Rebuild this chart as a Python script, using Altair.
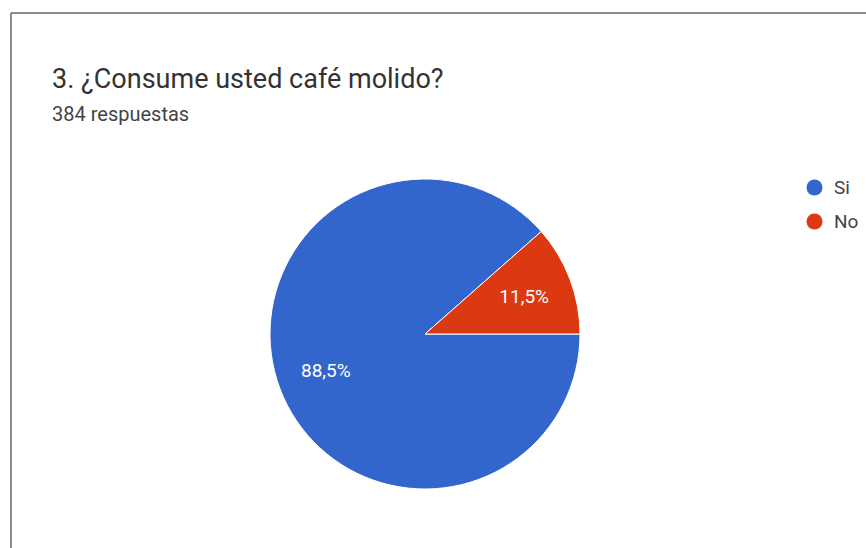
import math
import altair as alt
import pandas as pd

# Datos
categorias = ["Si", "No"]
porcentajes = [88.5, 11.5]
etiquetas = ["88,5%", "11,5%"]
orden = [0, 1]
colores = ["#3366cc", "#dc3912"]
titulo = "3. ¿Consume usted café molido?"
subtitulo = "384 respuestas"

df = pd.DataFrame({
    "respuesta": categorias,
    "porcentaje": porcentajes,
    "etiqueta": etiquetas,
    "orden": orden,
})

theta = alt.Theta(
    "porcentaje:Q",
    stack=True,
    scale=alt.Scale(range=[math.pi / 2, math.pi / 2 + 2 * math.pi]),
)

pie = alt.Chart(df).mark_arc(outerRadius=155, stroke="white", strokeWidth=1).encode(
    theta=theta,
    color=alt.Color(
        "respuesta:N",
        sort=categorias,
        scale=alt.Scale(domain=categorias, range=colores),
        legend=alt.Legend(
            title=None,
            orient="none",
            legendX=805,
            legendY=178,
            symbolType="circle",
            symbolSize=256,
            symbolStrokeWidth=0,
            labelFont="Roboto",
            labelFontSize=19,
            labelColor="#444444",
            labelOffset=10,
            rowPadding=14,
            padding=0,
        ),
    ),
    order=alt.Order("orden:Q"),
    x=alt.value(425),
    y=alt.value(334),
)

labels = alt.Chart(df).mark_text(
    radius=106, font="Roboto", fontSize=19, color="white"
).encode(
    theta=theta,
    detail="respuesta:N",
    order=alt.Order("orden:Q"),
    text="etiqueta:N",
    x=alt.value(425),
    y=alt.value(334),
)

frame = pd.DataFrame({"k": [0]})
top_line = alt.Chart(frame).mark_rule(color="#666666", strokeWidth=1.5).encode(
    x=alt.value(11), x2=alt.value(866), y=alt.value(13)
)
left_line = alt.Chart(frame).mark_rule(color="#666666", strokeWidth=1.5).encode(
    x=alt.value(11), y=alt.value(13), y2=alt.value(548)
)

chart = alt.layer(top_line, left_line, pie, labels).properties(
    width=866,
    height=548,
    autosize="none",
    padding=0,
    title=alt.TitleParams(
        text=titulo,
        subtitle=subtitulo,
        anchor="start",
        orient="top",
        frame="group",
        dx=52,
        offset=-126,
        font="Roboto",
        fontSize=27,
        fontWeight="normal",
        color="#333333",
        subtitleFont="Roboto",
        subtitleFontSize=20,
        subtitleColor="#444444",
        subtitlePadding=11,
    ),
).configure_view(stroke=None)

chart.save("out.html", embed_options={"renderer": "svg", "actions": False})
